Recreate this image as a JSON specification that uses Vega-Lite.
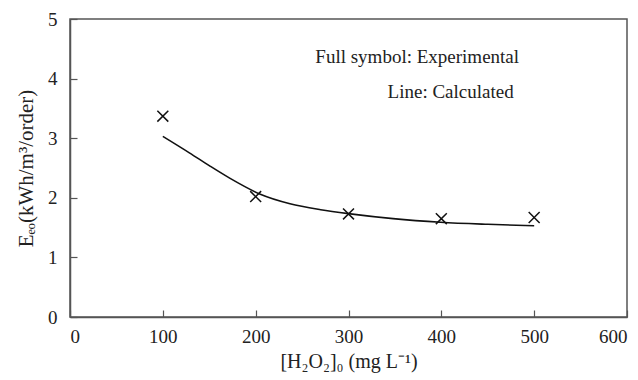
{
  "$schema": "https://vega.github.io/schema/vega-lite/v6.json",
  "width": 557,
  "height": 298,
  "autosize": {"type": "none"},
  "padding": {"left": 70, "top": 19, "right": 11, "bottom": 63},
  "background": "white",
  "config": {
    "view": {"stroke": "#555555", "strokeWidth": 1.5},
    "font": "Liberation Serif",
    "axis": {
      "labelFont": "Liberation Serif",
      "titleFont": "Liberation Serif",
      "labelFontSize": 19,
      "titleFontSize": 20,
      "labelColor": "#222222",
      "titleColor": "#222222",
      "titleFontWeight": "normal",
      "domainColor": "#555555",
      "domainWidth": 1.5,
      "tickColor": "#555555",
      "tickWidth": 1.2,
      "grid": false
    }
  },
  "datasets": {
    "exp": [
      {"h2o2": 100, "eeo": 3.37},
      {"h2o2": 200, "eeo": 2.02},
      {"h2o2": 300, "eeo": 1.73},
      {"h2o2": 400, "eeo": 1.65},
      {"h2o2": 500, "eeo": 1.67}
    ],
    "calc": [
      {"h2o2": 100, "eeo": 3.03},
      {"h2o2": 129, "eeo": 2.75},
      {"h2o2": 150, "eeo": 2.54},
      {"h2o2": 172, "eeo": 2.33},
      {"h2o2": 205, "eeo": 2.06},
      {"h2o2": 237, "eeo": 1.9},
      {"h2o2": 270, "eeo": 1.8},
      {"h2o2": 302, "eeo": 1.73},
      {"h2o2": 348, "eeo": 1.65},
      {"h2o2": 399, "eeo": 1.59},
      {"h2o2": 450, "eeo": 1.555},
      {"h2o2": 500, "eeo": 1.53}
    ],
    "notes": [
      {"x": 374, "y": 4.36, "label": "Full symbol: Experimental"},
      {"x": 410, "y": 3.78, "label": "Line: Calculated"}
    ]
  },
  "layer": [
    {
      "data": {"name": "calc"},
      "mark": {"type": "line", "color": "#111111", "strokeWidth": 1.6, "interpolate": "monotone"},
      "encoding": {
        "x": {
          "field": "h2o2", "type": "quantitative",
          "scale": {"domain": [0, 600], "nice": false},
          "axis": {"values": [0, 100, 200, 300, 400, 500, 600], "format": "d", "tickSize": -7, "labelPadding": 17, "title": "[H₂O₂]₀ (mg L⁻¹)", "titlePadding": 5}
        },
        "y": {
          "field": "eeo", "type": "quantitative",
          "scale": {"domain": [0, 5], "nice": false},
          "axis": {"values": [0, 1, 2, 3, 4, 5], "format": "d", "tickSize": -7, "labelPadding": 20, "title": "Eₑₒ(kWh/m³/order)", "titleFontSize": 21, "titlePadding": 11}
        }
      }
    },
    {
      "data": {"name": "exp"},
      "mark": {"type": "point", "shape": "M-1,-1L1,1M-1,1L1,-1", "filled": false, "stroke": "#111111", "strokeWidth": 1.5, "size": 120, "opacity": 1},
      "encoding": {
        "x": {"field": "h2o2", "type": "quantitative"},
        "y": {"field": "eeo", "type": "quantitative"}
      }
    },
    {
      "data": {"name": "notes"},
      "mark": {"type": "text", "font": "Liberation Serif", "fontSize": 19, "color": "#222222", "align": "center", "baseline": "middle"},
      "encoding": {
        "x": {"field": "x", "type": "quantitative"},
        "y": {"field": "y", "type": "quantitative"},
        "text": {"field": "label"}
      }
    }
  ]
}
